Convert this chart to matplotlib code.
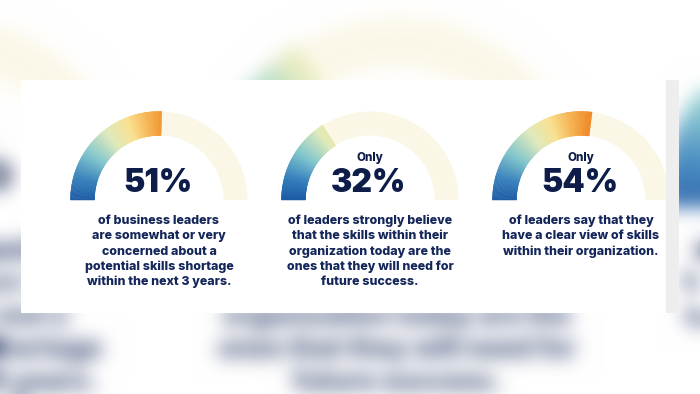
import numpy as np
import matplotlib
matplotlib.use("Agg")
import matplotlib.pyplot as plt
from matplotlib.patches import Wedge, Rectangle
from matplotlib.colors import LinearSegmentedColormap

# ---------------- data ----------------
values = [51, 32, 54]
prefixes = ["", "Only", "Only"]
labels = ["51%", "32%", "54%"]
descriptions = [
    ["of business leaders", "are somewhat or very", "concerned about a",
     "potential skills shortage", "within the next 3 years."],
    ["of leaders strongly believe", "that the skills within their",
     "organization today are the", "ones that they will need for",
     "future success."],
    ["of leaders say that they", "have a clear view of skills",
     "within their organization."],
]

# ---------------- style / layout ----------------
W_PX, H_PX = 700, 394
FONT = ["Inter", "DejaVu Sans"]
NAVY = "#0d1c48"
TEXT = "#15275a"
TRACK = "#fbf7e6"
centers_x = [159, 370, 581]
BASE_Y = H_PX - 200          # gauge baseline (y-up)
R_OUT = 88.5
RING_W = 24
ONLY_Y = H_PX - 160.7
NUM_Y = H_PX - 191.7
DESC_Y0 = H_PX - 224
DESC_DY = 15.3

grad = LinearSegmentedColormap.from_list("g", [
    (0.00, "#1b5aa5"), (0.15, "#3580bd"), (0.33, "#80c6cd"),
    (0.52, "#dfeabc"), (0.68, "#f9e18f"), (0.83, "#f5b04c"),
    (0.95, "#ef8a26"), (1.00, "#ee8424")])


def draw_content(ax, k=1.0):
    for cx, v, pre, lab, desc in zip(centers_x, values, prefixes, labels, descriptions):
        ax.add_patch(Wedge((cx, BASE_Y), R_OUT, 0, 180, width=RING_W,
                           facecolor=TRACK, edgecolor="none", zorder=3))
        theta_end = 180 - 1.8 * v
        edges = np.linspace(theta_end, 180, 161)
        for a0, a1 in zip(edges[:-1], edges[1:]):
            mid = 0.5 * (a0 + a1)
            col = grad(np.clip((180 - mid) / 100.0, 0, 1))
            ax.add_patch(Wedge((cx, BASE_Y), R_OUT, a0, a1, width=RING_W,
                               facecolor=col, edgecolor=col, lw=0.35 * k, zorder=4))
        if pre:
            ax.text(cx, ONLY_Y, pre, ha="center", va="baseline", fontsize=8.4 * k,
                    fontweight=800, color=NAVY, family=FONT, zorder=5)
        ax.text(cx - 1, NUM_Y, lab, ha="center", va="baseline", fontsize=23 * k,
                fontweight=900, color=NAVY, family=FONT, zorder=5)
        for i, line in enumerate(desc):
            ax.text(cx, DESC_Y0 - i * DESC_DY, line, ha="center", va="baseline",
                    fontsize=8.95 * k, fontweight=800, color=TEXT, family=FONT,
                    zorder=5)


# ---------------- blurred background (scaled-up copy of the card) ----------------
S = 2.15
P = (369.0, 276.0)     # card point (px, y-down)
C = (395.0, 370.0)     # where it lands in background
x_lo = P[0] + (0 - C[0]) / S
x_hi = P[0] + (W_PX - C[0]) / S
y_top = P[1] + (0 - C[1]) / S
y_bot = P[1] + (H_PX - C[1]) / S

fbg = plt.figure(figsize=(7, 3.94), dpi=100)
abg = fbg.add_axes([0, 0, 1, 1])
abg.set_xlim(x_lo, x_hi)
abg.set_ylim(H_PX - y_bot, H_PX - y_top)
abg.axis("off")
draw_content(abg, S)
fbg.canvas.draw()
img = np.asarray(fbg.canvas.buffer_rgba())[..., :3].astype(float) / 255.0
plt.close(fbg)


def blur(a, sigma):
    r = int(3 * sigma)
    xk = np.arange(-r, r + 1)
    ker = np.exp(-0.5 * (xk / sigma) ** 2)
    ker /= ker.sum()
    a = np.pad(a, ((r, r), (r, r), (0, 0)), mode="edge")
    a = np.apply_along_axis(lambda m: np.convolve(m, ker, mode="valid"), 0, a)
    a = np.apply_along_axis(lambda m: np.convolve(m, ker, mode="valid"), 1, a)
    return a


bg = blur(img, 9.5)
bg = 1 - (1 - bg) * 0.9

# ---------------- main figure ----------------
fig = plt.figure(figsize=(7, 3.94), dpi=100)
ax = fig.add_axes([0, 0, 1, 1])
ax.imshow(bg, extent=(0, W_PX, 0, H_PX), origin="upper", aspect="auto", zorder=0)
ax.set_xlim(0, W_PX)
ax.set_ylim(0, H_PX)
ax.axis("off")

# card
ax.add_patch(Rectangle((21, H_PX - 313), 645, 233, facecolor="white",
                       edgecolor="none", zorder=1))
draw_content(ax, 1.0)
ax.add_patch(Rectangle((666, H_PX - 313), 13, 233, facecolor="#eeeeee",
                       edgecolor="none", zorder=6))

fig.savefig("out.png", dpi=100)
